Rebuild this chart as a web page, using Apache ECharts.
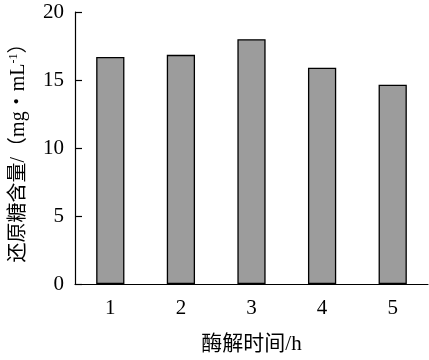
<!DOCTYPE html>
<html><head><meta charset="utf-8">
<script src="https://cdn.jsdelivr.net/npm/echarts@6/dist/echarts.min.js"></script>
<style>html,body{margin:0;padding:0;background:#fff}#c{width:429px;height:360px}</style>
</head><body><div id="c"></div>
<script>
const categories = ['1', '2', '3', '4', '5'];
const values = [16.7, 16.85, 18.0, 15.9, 14.65];
const yTicks = [0, 5, 10, 15, 20];
const xTitle = '酶解时间/h';
const yTitleMain = '还原糖含量/（mg・mL';
const yTitleSup = '-1';
const yTitleEnd = '）';

const FONT = "'Liberation Serif', 'Noto Sans CJK SC', serif";
const chart = echarts.init(document.getElementById('c'), null, {renderer: 'canvas'});
chart.setOption({
  animation: false,
  grid: {left: 74, right: 1, top: 12, bottom: 73, containLabel: false},
  xAxis: {
    type: 'category', data: categories,
    name: xTitle, nameLocation: 'middle', nameGap: 50,
    nameTextStyle: {fontFamily: FONT, fontSize: 21, color: '#000'},
    axisLine: {lineStyle: {color: '#000', width: 1.2}},
    axisTick: {inside: true, length: 8, lineStyle: {color: '#000', width: 1.2}},
    axisLabel: {fontFamily: FONT, fontSize: 21, color: '#000', margin: 14},
    splitLine: {show: false}
  },
  yAxis: {
    type: 'value', min: yTicks[0], max: yTicks[yTicks.length - 1], interval: 5,
    name: '{m|' + yTitleMain + '}{s|' + yTitleSup + '}{m|' + yTitleEnd + '}',
    nameLocation: 'middle', nameGap: 46, nameRotate: 90,
    nameTextStyle: {
      fontFamily: FONT, fontSize: 20, color: '#000',
      rich: {
        m: {fontFamily: FONT, fontSize: 20, color: '#000'},
        s: {fontFamily: FONT, fontSize: 12, color: '#000', verticalAlign: 'top', padding: [0, 0, 9, 0]}
      }
    },
    axisLine: {show: true, lineStyle: {color: '#000', width: 1.2}},
    axisTick: {show: true, inside: true, length: 7, lineStyle: {color: '#000', width: 1.2}},
    axisLabel: {fontFamily: FONT, fontSize: 21, color: '#000', margin: 11},
    splitLine: {show: false}
  },
  series: [{
    type: 'bar', data: values, barWidth: '40%',
    itemStyle: {color: '#9c9c9c', borderColor: '#000', borderWidth: 1.3}
  }]
});
</script></body></html>
